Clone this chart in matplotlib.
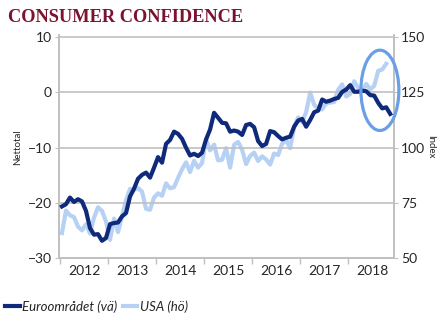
import matplotlib
matplotlib.use("Agg")
import matplotlib.pyplot as plt
from matplotlib.patches import Ellipse
from matplotlib.lines import Line2D

# Euro area consumer confidence, net balance (left axis), Jan 2012 - Nov 2018
euro = [-20.6, -20.2, -19.0, -19.8, -19.3, -19.7, -21.4, -24.5, -25.7, -25.6, -26.8, -26.3,
        -23.8, -23.6, -23.5, -22.4, -21.8, -18.8, -17.4, -15.6, -14.9, -14.5, -15.4, -13.6,
        -11.7, -12.7, -9.3, -8.6, -7.1, -7.5, -8.4, -10.0, -11.4, -11.1, -11.5, -10.9,
        -8.5, -6.7, -3.7, -4.6, -5.5, -5.6, -7.1, -6.9, -7.1, -7.7, -5.9, -5.7,
        -6.3, -8.8, -9.7, -9.3, -7.0, -7.2, -7.9, -8.5, -8.2, -8.0, -6.2, -5.1,
        -4.8, -6.2, -5.0, -3.6, -3.3, -1.3, -1.7, -1.5, -1.2, -1.0, 0.1, 0.5,
        1.3, 0.1, 0.1, 0.3, 0.2, -0.5, -0.6, -1.9, -2.9, -2.7, -3.9]

# USA consumer confidence index (right axis), Jan 2012 - Oct 2018
usa = [61.5, 71.6, 69.5, 68.7, 64.4, 62.7, 65.4, 61.3, 68.4, 73.1, 71.5, 66.7,
       58.4, 68.0, 61.9, 69.0, 76.2, 81.4, 81.0, 81.8, 80.2, 72.4, 72.0, 77.5,
       79.4, 78.3, 83.9, 81.7, 82.2, 86.4, 90.3, 93.4, 89.0, 94.1, 91.0, 93.1,
       103.8, 98.8, 101.4, 94.3, 94.6, 99.8, 91.0, 101.3, 102.6, 99.1, 92.6, 96.3,
       97.8, 94.0, 96.1, 94.7, 92.4, 97.4, 96.7, 101.8, 103.5, 99.8, 109.4, 113.7,
       111.6, 116.1, 124.9, 119.4, 117.6, 117.3, 120.0, 120.4, 120.6, 126.2, 128.6, 123.1,
       124.3, 130.0, 127.0, 125.6, 128.8, 126.4, 127.9, 134.7, 135.3, 137.9]

years = [2012, 2013, 2014, 2015, 2016, 2017, 2018]

dark = "#0F2A7A"
light = "#B7D1F5"
grid = "#C0C0C0"
txt = "#262626"

plt.rcParams['font.family'] = ['Lato', 'DejaVu Sans']

x_euro = [2012 + (i + 0.5) / 12 for i in range(len(euro))]
x_usa = [2012 + (i + 0.5) / 12 for i in range(len(usa))]

fig = plt.figure(figsize=(4.45, 3.27), dpi=100)
ax = fig.add_axes([0.1326, 0.2095, 0.7524, 0.6835])
ax2 = ax.twinx()

ax.set_ylim(-30, 10.35)
ax2.set_ylim(125 - 2.5 * 30, 125 + 2.5 * 10.35)
ax.set_xlim(2011.98, 2018.95)

ax.set_yticks([10, 0, -10, -20, -30])
ax2.set_yticks([150, 125, 100, 75, 50])
ax.yaxis.grid(True, color=grid, linewidth=1.2)
ax.set_axisbelow(True)

# year ticks on boundaries, labels in the middle
ax.set_xticks(years, minor=True)
ax.set_xticks([y + 0.5 for y in years])
ax.set_xticklabels([str(y) for y in years])
ax.tick_params(axis='x', which='major', length=0, labelsize=10, colors=txt, pad=5)
ax.tick_params(axis='x', which='minor', length=4, color=grid, width=1)
ax.tick_params(axis='y', length=3, color=grid, labelsize=10, labelcolor=txt, pad=2)
ax2.tick_params(axis='y', length=3, color=grid, labelsize=10, labelcolor=txt, pad=2)

for a in (ax, ax2):
    for s in a.spines.values():
        s.set_color(grid)
        s.set_linewidth(1.2)
    a.spines['top'].set_visible(False)

ax.set_ylabel("Nettotal", fontsize=7, color=txt, labelpad=4)
ax2.set_ylabel("Index", fontsize=7, color=txt, rotation=-90, labelpad=7)

ax2.plot(x_usa, usa, color=light, linewidth=3, solid_joinstyle='round', zorder=2)
ax2.set_zorder(1)
ax.set_zorder(2)
ax.patch.set_visible(False)
ax.plot(x_euro, euro, color=dark, linewidth=3, solid_joinstyle='round', zorder=3)

# highlight of the latest months
ell = Ellipse((2018.66, 0.36), 0.79, 14.5, fill=False, edgecolor="#6A9FE6",
              linewidth=2.3, clip_on=False, zorder=5)
ax.add_patch(ell)

fig.text(0.018, 0.945, "CONSUMER CONFIDENCE", fontsize=13.2, fontweight='bold',
         family='Liberation Serif', color="#7A1230", va='center', ha='left')

handles = [Line2D([0], [0], color=dark, linewidth=3),
           Line2D([0], [0], color=light, linewidth=3)]
leg = fig.legend(handles, ["Euroområdet (vä)", "USA (hö)"], loc='center left',
                 bbox_to_anchor=(0.0, 0.063), ncol=2, frameon=False,
                 prop={'style': 'italic', 'size': 9.5}, handlelength=1.1,
                 handletextpad=0.2, columnspacing=0.4, borderaxespad=0)
for t in leg.get_texts():
    t.set_color(txt)

fig.savefig("out.png", dpi=100)
